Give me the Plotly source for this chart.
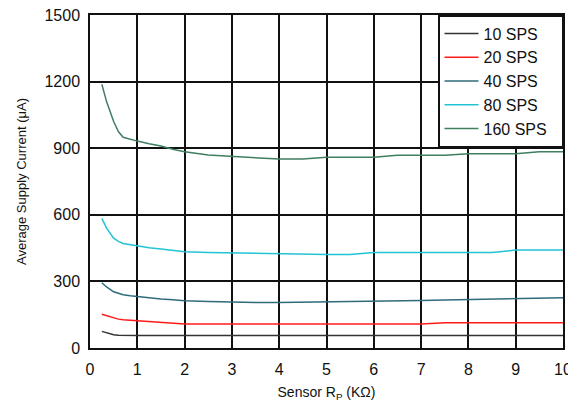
import plotly.graph_objects as go

x = [0.25, 0.35, 0.5, 0.6, 0.7, 0.85, 1.0, 1.25, 1.5, 1.75, 2.0, 2.5, 3.0, 3.5, 4.0, 4.5, 5.0, 5.5, 6.0, 6.5, 7.0, 7.5, 8.0, 8.5, 9.0, 9.5, 10.0]

sps10 = [75, 68, 60, 57, 56, 56, 56, 56, 56, 56, 56, 56, 56, 56, 56, 56, 56, 56, 56, 56, 56, 56, 56, 56, 56, 56, 56]
sps20 = [152, 145, 134, 130, 127, 125, 123, 118, 114, 110, 108, 108, 108, 108, 108, 108, 108, 108, 108, 108, 108, 114, 114, 114, 114, 114, 114]
sps40 = [294, 275, 253, 245, 240, 235, 231, 226, 221, 217, 213, 210, 206, 205, 205, 206, 207, 208, 210, 212, 214, 216, 218, 220, 222, 224, 226]
sps80 = [584, 540, 495, 480, 471, 465, 459, 452, 446, 440, 434, 430, 428, 425, 423, 422, 421, 421, 430, 430, 430, 430, 430, 430, 441, 441, 441]
sps160 = [1188, 1110, 1020, 975, 949, 940, 932, 920, 910, 895, 884, 869, 862, 855, 851, 851, 859, 859, 859, 868, 868, 868, 875, 875, 875, 884, 884]

names = ["10 SPS", "20 SPS", "40 SPS", "80 SPS", "160 SPS"]
series = [sps10, sps20, sps40, sps80, sps160]
colors = ["#333333", "#ff1a1a", "#2f6b7a", "#22c4d4", "#3f7f60"]

x_ticks = list(range(0, 11))
y_ticks = [0, 300, 600, 900, 1200, 1500]

fig = go.Figure()
for n, s, c in zip(names, series, colors):
    fig.add_trace(go.Scatter(x=x, y=s, mode="lines", name=n + "\u00a0\u00a0",
                             legendgroup=n, line=dict(color=c, width=1.5)))

fam = "Liberation Sans, Arial, sans-serif"
tickfont = dict(family=fam, size=16, color="#111111")

fig.update_layout(
    width=576, height=406,
    margin=dict(l=82, r=21, t=7, b=66),
    paper_bgcolor="white", plot_bgcolor="white",
    font=dict(family=fam, size=13, color="#111111"),
    showlegend=True,
    legend=dict(x=1, y=1, xanchor="right", yanchor="top",
                bgcolor="white", bordercolor="#111111", borderwidth=1.5,
                font=dict(family=fam, size=16, color="#111111"),
                itemwidth=34, tracegroupgap=0),
    xaxis=dict(range=[0, 10], tickvals=x_ticks, ticks="", showgrid=True,
               gridcolor="#111111", gridwidth=1.5, showline=True, linecolor="#111111",
               linewidth=1.5, mirror=True, zeroline=False, automargin=False,
               ticklabelstandoff=6, ticklabeloverflow="allow",
               title=dict(text="Sensor R<sub>P</sub> (KΩ)", standoff=10,
                          font=dict(family=fam, size=14, color="#111111")),
               tickfont=tickfont),
    yaxis=dict(range=[0, 1500], tickvals=y_ticks, ticks="", showgrid=True,
               gridcolor="#111111", gridwidth=1.5, showline=True, linecolor="#111111",
               linewidth=1.5, mirror=True, zeroline=False, automargin=False,
               ticklabelstandoff=5, ticklabeloverflow="allow",
               title=dict(text="Average Supply Current (μA)", standoff=15,
                          font=dict(family=fam, size=13, color="#111111")),
               tickfont=tickfont),
)

fig.write_html("out.html")
